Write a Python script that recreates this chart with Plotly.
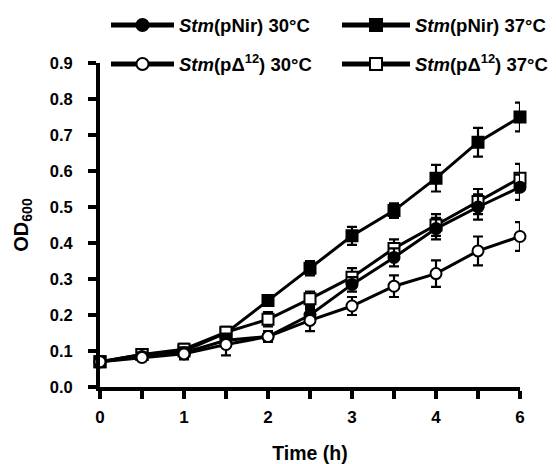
import plotly.graph_objects as go

# x positions of samples (axis is labelled 0,1,2,3,4,6 in the original figure)
time_pos = [0, 0.5, 1, 1.5, 2, 2.5, 3, 3.5, 4, 4.5, 5]
tick_vals = [0, 0.5, 1, 1.5, 2, 2.5, 3, 3.5, 4, 4.5, 5]
tick_text = ["0", "", "1", "", "2", "", "3", "", "4", "", "6"]

pnir30 = [0.07, 0.085, 0.095, 0.13, 0.14, 0.20, 0.285, 0.36, 0.44, 0.50, 0.555]
pnir30_err = [0.01, 0.01, 0.015, 0.015, 0.015, 0.02, 0.02, 0.025, 0.03, 0.035, 0.035]
pnir37 = [0.07, 0.09, 0.10, 0.15, 0.24, 0.33, 0.42, 0.49, 0.58, 0.68, 0.75]
pnir37_err = [0.01, 0.01, 0.01, 0.015, 0.015, 0.02, 0.025, 0.02, 0.037, 0.04, 0.04]
pd30 = [0.07, 0.082, 0.092, 0.118, 0.14, 0.185, 0.225, 0.28, 0.315, 0.378, 0.418]
pd30_err = [0.01, 0.01, 0.015, 0.03, 0.015, 0.03, 0.025, 0.03, 0.037, 0.04, 0.04]
pd37 = [0.07, 0.09, 0.105, 0.152, 0.188, 0.245, 0.305, 0.385, 0.45, 0.515, 0.58]
pd37_err = [0.01, 0.01, 0.015, 0.015, 0.02, 0.02, 0.025, 0.025, 0.03, 0.035, 0.04]

names = {
    "pnir30": "<b><i>Stm</i>(pNir) 30°C</b>",
    "pnir37": "<b><i>Stm</i>(pNir) 37°C</b>",
    "pd30": "<b><i>Stm</i>(pΔ<sup>12</sup>) 30°C</b>",
    "pd37": "<b><i>Stm</i>(pΔ<sup>12</sup>) 37°C</b>",
}

fig = go.Figure()

def add(y, err, name, symbol, fill, legend):
    fig.add_trace(go.Scatter(
        x=time_pos, y=y, name=name, mode="lines+markers",
        line=dict(color="black", width=3),
        marker=dict(symbol=symbol, size=11, color=fill,
                    line=dict(color="black", width=2)),
        error_y=dict(type="data", array=err, visible=True, color="black",
                     thickness=2.2, width=5),
        cliponaxis=False, legend=legend, showlegend=True,
    ))

add(pnir37, pnir37_err, names["pnir37"], "square", "black", "legend2")
add(pd37, pd37_err, names["pd37"], "square", "white", "legend4")
add(pnir30, pnir30_err, names["pnir30"], "circle", "black", "legend")
add(pd30, pd30_err, names["pd30"], "circle", "white", "legend3")

font_family = "Liberation Sans, Arial, sans-serif"
legend_common = dict(orientation="h", xanchor="left", yanchor="middle",
                     xref="container", yref="container",
                     bgcolor="rgba(0,0,0,0)",
                     font=dict(family=font_family, size=18.5, color="black"),
                     itemsizing="constant")

col1, col2 = 106 / 556, 337 / 556
row1, row2 = 1 - 25.5 / 464, 1 - 64.5 / 464

fig.update_layout(
    width=556, height=464,
    showlegend=True,
    margin=dict(l=100, r=36, t=63, b=77, autoexpand=False),
    paper_bgcolor="white", plot_bgcolor="white",
    font=dict(family=font_family, color="black"),
    legend=dict(x=col1, y=row1, itemwidth=63, **legend_common),
    legend2=dict(x=col2, y=row1, itemwidth=68, **legend_common),
    legend3=dict(x=col1, y=row2, itemwidth=63, **legend_common),
    legend4=dict(x=col2, y=row2, itemwidth=68, **legend_common),
    xaxis=dict(
        range=[0, 5], tickvals=tick_vals, ticktext=tick_text,
        showline=True, linecolor="black", linewidth=4,
        ticks="outside", ticklen=8, tickwidth=4, tickcolor="black",
        showgrid=False, zeroline=False,
        tickfont=dict(size=17, family=font_family, weight="bold"),
        ticklabelstandoff=4,
        title=dict(text="<b>Time (h)</b>", font=dict(size=19.5), standoff=21),
    ),
    yaxis=dict(
        range=[0, 0.9], tickvals=[0, 0.1, 0.2, 0.3, 0.4, 0.5, 0.6, 0.7, 0.8, 0.9],
        tickformat=".1f",
        showline=True, linecolor="black", linewidth=4,
        ticks="outside", ticklen=8, tickwidth=4, tickcolor="black",
        showgrid=False, zeroline=False,
        tickfont=dict(size=16.5, family=font_family, weight="bold"),
        ticklabelstandoff=12,
        title=dict(text="<b>OD<sub>600</sub></b>", font=dict(size=20), standoff=17),
    ),
)

fig.write_html("out.html", config={"displayModeBar": False},
               post_script="document.body.style.margin='0px';")
